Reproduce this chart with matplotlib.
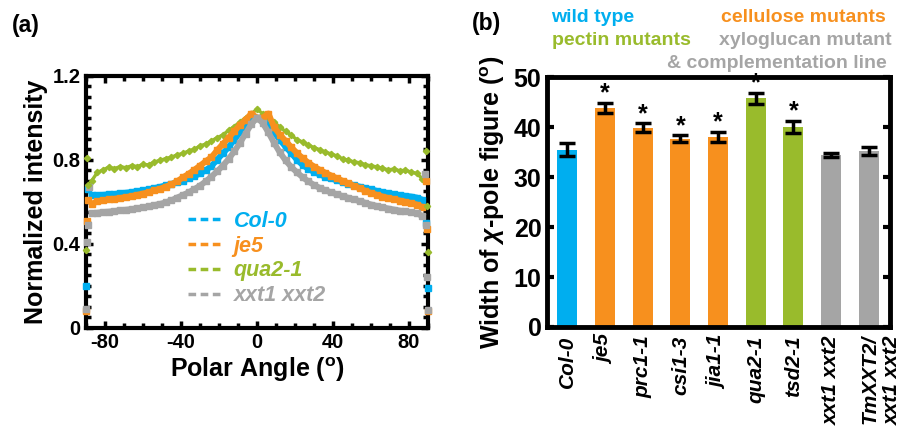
import matplotlib
matplotlib.use("Agg")
import matplotlib.pyplot as plt
import matplotlib.transforms as mtransforms
from matplotlib.lines import Line2D
from matplotlib.ticker import MultipleLocator

plt.rcParams['font.family'] = ['Liberation Sans', 'DejaVu Sans']
plt.rcParams['font.weight'] = 'bold'
plt.rcParams['axes.labelweight'] = 'bold'
plt.rcParams['axes.unicode_minus'] = False
plt.rcParams['mathtext.fontset'] = 'custom'
plt.rcParams['mathtext.rm'] = 'Liberation Sans:bold'
plt.rcParams['mathtext.it'] = 'Liberation Sans:bold:italic'
plt.rcParams['mathtext.bf'] = 'Liberation Sans:bold'

# ---- panel (a): polar angle profiles ----
angle = [-87, -84, -81, -78, -75, -72, -69, -66, -63, -60, -57, -54, -51, -48, -45,
         -42, -39, -36, -33, -30, -27, -24, -21, -18, -15, -12, -9, -6, -3, 0,
         3, 6, 9, 12, 15, 18, 21, 24, 27, 30, 33, 36, 39, 42, 45,
         48, 51, 54, 57, 60, 63, 66, 69, 72, 75, 78, 81, 84, 87]

col0 = [0.630, 0.632, 0.633, 0.635, 0.637, 0.640, 0.643, 0.646, 0.650, 0.654, 0.659, 0.665, 0.671, 0.678, 0.685,
        0.693, 0.701, 0.711, 0.722, 0.735, 0.750, 0.770, 0.800, 0.830, 0.860, 0.895, 0.930, 0.962, 0.990, 1.000,
        0.990, 0.965, 0.930, 0.895, 0.862, 0.832, 0.800, 0.775, 0.757, 0.742, 0.730, 0.720, 0.711, 0.702, 0.694,
        0.686, 0.679, 0.672, 0.665, 0.659, 0.652, 0.646, 0.641, 0.636, 0.631, 0.628, 0.625, 0.620, 0.610]

je5 = [0.590, 0.602, 0.607, 0.611, 0.614, 0.618, 0.622, 0.627, 0.633, 0.639, 0.646, 0.654, 0.662, 0.672, 0.683,
       0.698, 0.716, 0.733, 0.752, 0.772, 0.793, 0.812, 0.845, 0.875, 0.905, 0.935, 0.965, 0.990, 1.020, 1.000,
       1.000, 1.020, 0.955, 0.920, 0.890, 0.860, 0.832, 0.808, 0.786, 0.768, 0.752, 0.738, 0.725, 0.712, 0.700,
       0.688, 0.676, 0.665, 0.652, 0.642, 0.633, 0.625, 0.618, 0.612, 0.606, 0.600, 0.594, 0.587, 0.575]

qua2 = [0.700, 0.740, 0.752, 0.765, 0.758, 0.768, 0.762, 0.772, 0.768, 0.778, 0.776, 0.790, 0.797, 0.806, 0.812,
        0.824, 0.830, 0.842, 0.850, 0.866, 0.875, 0.890, 0.905, 0.918, 0.940, 0.958, 0.980, 1.000, 1.020, 1.040,
        1.020, 1.005, 0.980, 0.955, 0.935, 0.918, 0.895, 0.885, 0.870, 0.858, 0.848, 0.836, 0.828, 0.818, 0.805,
        0.798, 0.790, 0.786, 0.776, 0.772, 0.766, 0.760, 0.752, 0.756, 0.748, 0.750, 0.742, 0.735, 0.710]

xxt = [0.545, 0.548, 0.551, 0.553, 0.556, 0.559, 0.562, 0.565, 0.569, 0.573, 0.578, 0.584, 0.590, 0.597, 0.607,
       0.620, 0.632, 0.645, 0.660, 0.677, 0.697, 0.720, 0.745, 0.772, 0.803, 0.840, 0.880, 0.925, 0.970, 1.000,
       0.975, 0.930, 0.880, 0.835, 0.797, 0.766, 0.740, 0.717, 0.697, 0.680, 0.666, 0.654, 0.645, 0.636, 0.627,
       0.619, 0.611, 0.603, 0.595, 0.587, 0.580, 0.574, 0.568, 0.563, 0.558, 0.554, 0.550, 0.545, 0.533]

# stray points at the very edges of the scan
col0_edge_x = [-90, -89, 89, 90]
col0_edge_y = [0.20, 0.66, 0.50, 0.19]
je5_edge_x = [-90, -89.5, -89, 89, 89.5, 90]
je5_edge_y = [0.08, 0.51, 0.61, 0.70, 0.47, 0.08]
qua2_edge_x = [-90, -89.5, -89, 89, 89.5, 90]
qua2_edge_y = [0.37, 0.81, 0.68, 0.84, 0.58, 0.36]
xxt_edge_x = [-90, -89.5, -89, -88.5, 88.5, 89, 89.5, 90]
xxt_edge_y = [0.09, 0.41, 0.49, 0.67, 0.73, 0.49, 0.24, 0.085]

# ---- panel (b): chi-pole figure widths ----
genotypes = ['Col-0', 'je5', 'prc1-1', 'csi1-3', 'jia1-1', 'qua2-1', 'tsd2-1',
             'xxt1 xxt2', 'TmXXT2/\nxxt1 xxt2']
width_mean = [35.5, 43.9, 39.9, 37.7, 38.1, 45.8, 40.1, 34.4, 35.3]
width_err = [1.3, 1.0, 0.9, 0.7, 1.0, 1.1, 1.2, 0.4, 0.8]
signif = [False, True, True, True, True, True, True, False, False]

BLUE = '#00AEEF'
ORANGE = '#F7901E'
GREEN = '#99BB2C'
GRAY = '#A5A5A5'
bar_colors = [BLUE, ORANGE, ORANGE, ORANGE, ORANGE, GREEN, GREEN, GRAY, GRAY]

fig = plt.figure(figsize=(9.05, 4.28), dpi=100)

# panel a
ax1 = fig.add_axes([0.095, 0.234, 0.378, 0.589])
series = [(col0, col0_edge_x, col0_edge_y, BLUE, 'Col-0'),
          (je5, je5_edge_x, je5_edge_y, ORANGE, 'je5'),
          (qua2, qua2_edge_x, qua2_edge_y, GREEN, 'qua2-1'),
          (xxt, xxt_edge_x, xxt_edge_y, GRAY, 'xxt1 xxt2')]
for ys, ex, ey, c, name in [series[0], series[1], series[3]]:
    ax1.plot(angle, ys, color=c, marker='s', ms=4, lw=4.3, zorder=3)
    ax1.plot(ex, ey, ls='none', marker='s', ms=3.8, color=c, clip_on=False, zorder=3)
ys, ex, ey, c, name = series[2]
ax1.plot(angle, ys, color=c, marker='D', ms=3.2, lw=2.4, zorder=2)
ax1.plot(ex, ey, ls='none', marker='D', ms=3.2, color=c, clip_on=False, zorder=3)

ax1.set_xlim(-90, 90)
ax1.set_ylim(0, 1.2)
ax1.set_xticks([-80, -40, 0, 40, 80])
ax1.set_yticks([0, 0.4, 0.8, 1.2])
ax1.set_yticklabels(['0', '0.4', '0.8', '1.2'])
ax1.xaxis.set_minor_locator(MultipleLocator(10))
ax1.yaxis.set_minor_locator(MultipleLocator(0.05))
ax1.tick_params(which='both', direction='in', top=True, right=True, width=2.5)
ax1.tick_params(which='major', length=5, labelsize=14.5, pad=4)
ax1.tick_params(which='minor', length=3.5)
plt.setp(ax1.get_xticklabels() + ax1.get_yticklabels(), fontweight='bold')
for s in ax1.spines.values():
    s.set_linewidth(3)
ax1.set_xlabel(r'Polar Angle ($^{\rm o}$)', fontsize=18, labelpad=2)
ax1.set_ylabel('Normalized intensity', fontsize=18, labelpad=3)

handles = [Line2D([], [], color=c, lw=2.5, ls=(0, (2.2, 1.3))) for _, _, _, c, _ in series]
leg = ax1.legend(handles, [s[4] for s in series], loc='center', bbox_to_anchor=(0.5, 0.275),
                 frameon=False, handlelength=1.6, handletextpad=0.5, labelspacing=0.18,
                 prop={'size': 15.5, 'weight': 'bold', 'style': 'italic'})
for t, s in zip(leg.get_texts(), series):
    t.set_color(s[3])

fig.text(0.013, 0.94, '(a)', fontsize=16.5, fontweight='bold', va='center')

# panel b
ax2 = fig.add_axes([0.6044, 0.236, 0.379, 0.584])
pos = list(range(len(genotypes)))
ax2.bar(pos, width_mean, width=0.53, color=bar_colors, zorder=2)
ax2.errorbar(pos, width_mean, yerr=width_err, fmt='none', ecolor='black',
             elinewidth=2.5, capsize=6, capthick=2.5, zorder=3)
for i in pos:
    if signif[i]:
        ax2.text(i, width_mean[i] + width_err[i] - 0.6, '*', ha='center', va='bottom',
                 fontsize=18, fontweight='bold')
ax2.set_xlim(-0.54, 8.56)
ax2.set_ylim(0, 50)
ax2.set_yticks([0, 10, 20, 30, 40, 50])
ax2.set_xticks(pos)
ax2.set_xticklabels(genotypes, rotation=90, fontsize=15, fontstyle='italic',
                    va='top', ha='center', multialignment='right')
ax2.tick_params(axis='x', length=0, pad=6)
ax2.tick_params(axis='y', direction='in', right=True, length=5, width=3, labelsize=18, pad=4)
plt.setp(ax2.get_xticklabels() + ax2.get_yticklabels(), fontweight='bold')
# two-line last label: first line centred on its bar, second line hanging to the right
last = ax2.get_xticklabels()[-1]
last.set_horizontalalignment('left')
last.set_transform(last.get_transform() + mtransforms.ScaledTranslation(-0.08, 0, fig.dpi_scale_trans))
for s in ax2.spines.values():
    s.set_linewidth(3.5)
ax2.set_ylabel(r'Width of $\chi$-pole figure ($^{\rm o}$)', fontsize=18, labelpad=5)

fig.text(0.521, 0.945, '(b)', fontsize=16.5, fontweight='bold', va='center')
fig.text(0.609, 0.958, 'wild type', color=BLUE, fontsize=14, fontweight='bold', va='center')
fig.text(0.979, 0.958, 'cellulose mutants', color=ORANGE, fontsize=14, fontweight='bold',
         va='center', ha='right')
fig.text(0.610, 0.905, 'pectin mutants', color=GREEN, fontsize=14, fontweight='bold', va='center')
fig.text(0.985, 0.905, 'xyloglucan mutant', color=GRAY, fontsize=14, fontweight='bold',
         va='center', ha='right')
fig.text(0.980, 0.852, '& complementation line', color=GRAY, fontsize=14, fontweight='bold',
         va='center', ha='right')

fig.savefig('out.png', dpi=100)
